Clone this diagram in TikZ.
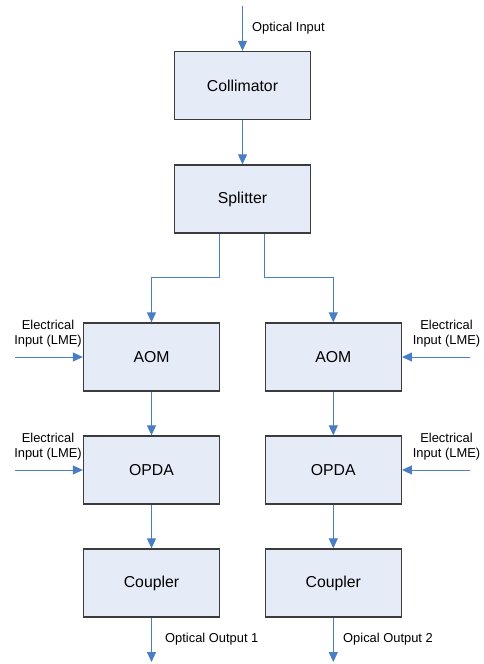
\documentclass[tikz,border=0pt]{standalone}
\usepackage{fontspec}
\setmainfont{Liberation Sans}
\usetikzlibrary{arrows.meta}
\definecolor{boxfill}{RGB}{230,236,247}
\definecolor{boxline}{RGB}{60,60,60}
\definecolor{arrowblue}{RGB}{74,126,196}
\begin{document}
\begin{tikzpicture}[x=1pt,y=-1pt,
  block/.style={draw=boxline,fill=boxfill,line width=1.3pt,minimum width=136pt,minimum height=68pt,inner sep=0pt,font=\fontsize{15.8}{18}\selectfont},
  conn/.style={draw=arrowblue,line width=1pt,-{Triangle[length=10pt,width=9pt]}},
  lbl/.style={font=\fontsize{12.9}{15}\selectfont,inner sep=0pt},
  elbl/.style={font=\fontsize{12.9}{15}\selectfont,inner sep=0pt,align=center}]
\useasboundingbox (0,0) rectangle (483,664);
% boxes
\node[block] (col) at (242.5,85.5) {Collimator};
\node[block] (spl) at (242.5,199) {Splitter};
\node[block] (aomL) at (151.5,357) {AOM};
\node[block] (aomR) at (333.3,357) {AOM};
\node[block] (opdaL) at (151.5,470) {OPDA};
\node[block] (opdaR) at (333.3,470) {OPDA};
\node[block] (coupL) at (151.5,583) {Coupler};
\node[block] (coupR) at (333.3,583) {Coupler};
% free ends
\coordinate (in) at (242.5,6);
\coordinate (outL) at (151.5,662);
\coordinate (outR) at (333.3,662);
\coordinate (eAL) at (15,357);
\coordinate (eAR) at (470,357);
\coordinate (eOL) at (15,470);
\coordinate (eOR) at (470,470);
% connectors
\draw[conn] (in) -- (col.north);
\draw[conn] (col) -- (spl);
\draw[conn] (spl.south -| 219,0) |- (151.5,277.5) -- (aomL.north);
\draw[conn] (spl.south -| 264,0) |- (333.3,277.5) -- (aomR.north);
\draw[conn] (aomL) -- (opdaL);
\draw[conn] (aomR) -- (opdaR);
\draw[conn] (opdaL) -- (coupL);
\draw[conn] (opdaR) -- (coupR);
\draw[conn] (coupL) -- (outL);
\draw[conn] (coupR) -- (outR);
\draw[conn] (eAL) -- (aomL);
\draw[conn] (eAR) -- (aomR);
\draw[conn] (eOL) -- (opdaL);
\draw[conn] (eOR) -- (opdaR);
% labels
\node[lbl,anchor=west] (tin) at (252,28) {Optical Input};
\node[lbl,anchor=west] (tout1) at (165,639) {Optical Output 1};
\node[lbl,anchor=west] (tout2) at (343,639) {Opical Output 2};
\node[elbl] (tAL) at (48,333.5) {Electrical\\Input (LME)};
\node[elbl] (tOL) at (48,446.5) {Electrical\\Input (LME)};
\node[elbl] (tAR) at (446.5,333.5) {Electrical\\Input (LME)};
\node[elbl] (tOR) at (446.5,446.5) {Electrical\\Input (LME)};
\end{tikzpicture}
\end{document}
